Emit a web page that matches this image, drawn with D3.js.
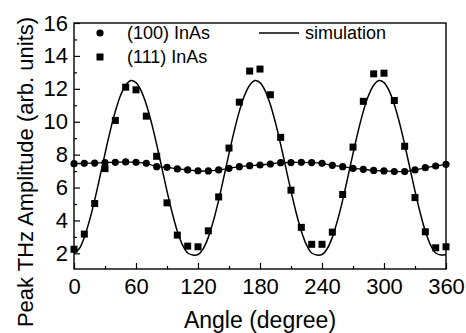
<!DOCTYPE html>
<html>
<head>
<meta charset="utf-8">
<script src="https://cdn.jsdelivr.net/npm/d3@7"></script>
<style>
  html, body { margin: 0; padding: 0; background: #fff; }
  svg text { font-family: "Liberation Sans", Arial, Helvetica, sans-serif; fill: #000; }
</style>
</head>
<body>
<div id="plot"></div>
<script>
// measured points, every 10 degrees
const angles = [0, 10, 20, 30, 40, 50, 60, 70, 80, 90, 100, 110, 120, 130, 140, 150, 160, 170, 180,
  190, 200, 210, 220, 230, 240, 250, 260, 270, 280, 290, 300, 310, 320, 330, 340, 350, 360];

const inas100 = [7.45, 7.47, 7.49, 7.52, 7.53, 7.56, 7.53, 7.47, 7.27, 7.23, 7.13, 7.07, 7.02,
  7.01, 7.07, 7.17, 7.27, 7.33, 7.37, 7.43, 7.51, 7.52, 7.53, 7.52, 7.47, 7.35, 7.27, 7.17,
  7.11, 7.04, 7.01, 6.97, 6.97, 7.07, 7.21, 7.31, 7.41];

const inas111 = [2.25, 3.17, 5.03, 7.15, 10.08, 12.1, 11.94, 10.34, 7.9, 5.07, 3.11, 2.44, 2.4,
  3.37, 5.43, 8.4, 11.19, 13.08, 13.2, 11.64, 9.05, 5.84, 3.58, 2.55, 2.55, 3.29, 5.58, 8.46,
  11.24, 12.91, 12.95, 11.29, 8.51, 5.39, 3.31, 2.34, 2.4];

// simulation curve, read every 5 degrees
const simAngles = [0, 5, 10, 15, 20, 25, 30, 35, 40, 45, 50, 55, 60, 65, 70, 75, 80, 85, 90, 95,
  100, 105, 110, 115, 120, 125, 130, 135, 140, 145, 150, 155, 160, 165, 170, 175, 180, 185, 190,
  195, 200, 205, 210, 215, 220, 225, 230, 235, 240, 245, 250, 255, 260, 265, 270, 275, 280, 285,
  290, 295, 300, 305, 310, 315, 320, 325, 330, 335, 340, 345, 350, 355, 360];

const simValues = [2.0, 2.28, 2.98, 4.0, 5.24, 6.63, 8.06, 9.43, 10.63, 11.59, 12.22, 12.5, 12.38,
  11.88, 11.05, 9.93, 8.62, 7.2, 5.78, 4.47, 3.35, 2.52, 2.02, 1.9, 1.93, 2.28, 2.98, 4.0, 5.24,
  6.63, 8.06, 9.43, 10.63, 11.59, 12.22, 12.5, 12.38, 11.88, 11.05, 9.93, 8.62, 7.2, 5.78, 4.47,
  3.35, 2.52, 2.02, 1.9, 1.93, 2.28, 2.98, 4.0, 5.24, 6.63, 8.06, 9.43, 10.63, 11.59, 12.22, 12.5,
  12.38, 11.88, 11.05, 9.93, 8.62, 7.2, 5.78, 4.47, 3.35, 2.52, 2.02, 1.9, 1.93];

const xTicks = [0, 60, 120, 180, 240, 300, 360];
const xMinor = [30, 90, 150, 210, 270, 330];
const yTicks = [2, 4, 6, 8, 10, 12, 14, 16];
const yMinor = [3, 5, 7, 9, 11, 13, 15];

const width = 466;
const height = 333;
const margin = { top: 23, right: 20, bottom: 64, left: 74 };
const w = width - margin.left - margin.right;
const h = height - margin.top - margin.bottom;

const svg = d3.select('#plot')
  .append('svg')
    .attr('width', width)
    .attr('height', height)
  .append('g')
    .attr('transform', 'translate(' + margin.left + ',' + margin.top + ')');

const x = d3.scaleLinear().domain([0, 360]).range([0, w]);
const y = d3.scaleLinear().domain([1.05, 16]).range([h, 0]);

// axes, ticks pointing inward
svg.append('g')
  .attr('transform', 'translate(0,' + h + ')')
  .call(d3.axisBottom(x).tickValues(xTicks).tickSize(-6).tickPadding(9).tickFormat(d3.format('d')));
svg.append('g')
  .attr('transform', 'translate(0,' + h + ')')
  .call(d3.axisBottom(x).tickValues(xMinor).tickSize(-3).tickFormat(''));

svg.append('g')
  .call(d3.axisLeft(y).tickValues(yTicks).tickSize(-6).tickPadding(6).tickFormat(d3.format('d')));
svg.append('g')
  .call(d3.axisLeft(y).tickValues(yMinor).tickSize(-3).tickFormat(''));

svg.selectAll('.domain').remove();
svg.selectAll('.tick line').attr('stroke', '#000').attr('stroke-width', 1.2);
svg.selectAll('.tick text').attr('font-size', 22);

svg.append('rect')
  .attr('width', w)
  .attr('height', h)
  .attr('fill', 'none')
  .attr('stroke', '#000')
  .attr('stroke-width', 1.4);

// simulation line
const simLine = d3.line()
  .x((d, i) => x(simAngles[i]))
  .y((d) => y(d))
  .curve(d3.curveCatmullRom);

svg.append('path')
  .attr('d', simLine(simValues))
  .attr('fill', 'none')
  .attr('stroke', '#000')
  .attr('stroke-width', 1.5);

// line through the (100) points
const line100 = d3.line()
  .x((d, i) => x(angles[i]))
  .y((d) => y(d))
  .curve(d3.curveCatmullRom);

svg.append('path')
  .attr('d', line100(inas100))
  .attr('fill', 'none')
  .attr('stroke', '#000')
  .attr('stroke-width', 1.3);

svg.selectAll('circle.p100')
  .data(inas100)
  .enter()
  .append('circle')
    .attr('class', 'p100')
    .attr('cx', (d, i) => x(angles[i]))
    .attr('cy', (d) => y(d))
    .attr('r', 3.6)
    .attr('fill', '#000');

svg.selectAll('rect.p111')
  .data(inas111)
  .enter()
  .append('rect')
    .attr('class', 'p111')
    .attr('x', (d, i) => x(angles[i]) - 3.5)
    .attr('y', (d) => y(d) - 3.5)
    .attr('width', 7)
    .attr('height', 7)
    .attr('fill', '#000');

// legend
const legend = svg.append('g').attr('font-size', 18);
legend.append('circle').attr('cx', 26).attr('cy', 10).attr('r', 3.6).attr('fill', '#000');
legend.append('text').attr('x', 53).attr('y', 10).attr('dy', '0.35em').text('(100) InAs');
legend.append('rect').attr('x', 22.5).attr('y', 30.5).attr('width', 7).attr('height', 7).attr('fill', '#000');
legend.append('text').attr('x', 53).attr('y', 34).attr('dy', '0.35em').text('(111) InAs');
legend.append('line')
  .attr('x1', 185).attr('x2', 225).attr('y1', 10).attr('y2', 10)
  .attr('stroke', '#000').attr('stroke-width', 1.5);
legend.append('text').attr('x', 231).attr('y', 10).attr('dy', '0.35em').text('simulation');

// axis titles
svg.append('text')
  .attr('x', w / 2)
  .attr('y', h + 59)
  .attr('text-anchor', 'middle')
  .attr('font-size', 23)
  .text('Angle (degree)');

svg.append('text')
  .attr('transform', 'translate(' + (33 - margin.left) + ',' + (172 - margin.top) + ') rotate(-90)')
  .attr('text-anchor', 'middle')
  .attr('font-size', 22)
  .text('Peak THz Amplitude (arb. units)');
</script>
</body>
</html>
